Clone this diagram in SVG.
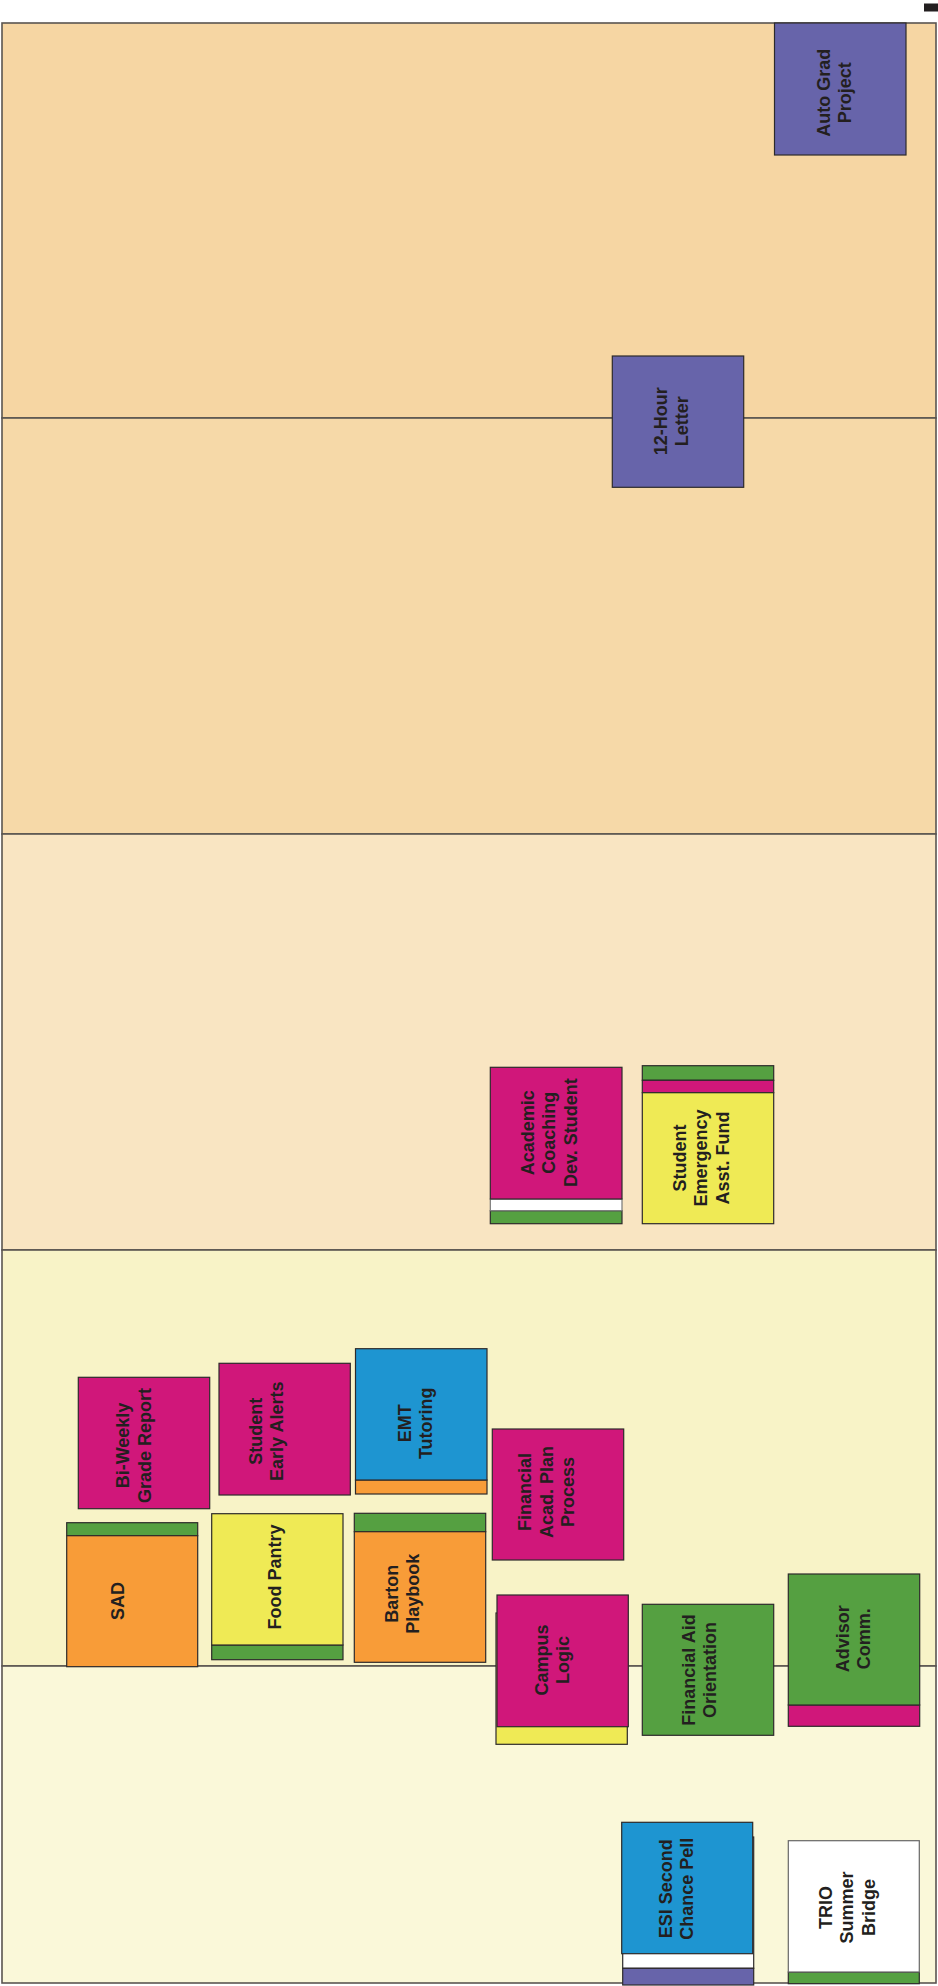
<svg xmlns="http://www.w3.org/2000/svg" width="938" height="1986" viewBox="0 0 938 1986">
<style>
.bx{stroke:#2d2a2b;stroke-width:1.2}
.mg{fill:#D0177A}.or{fill:#F89C38}.ye{fill:#EFEA55}.gr{fill:#55A041}.bl{fill:#1E95D1}.pu{fill:#6764AA}.wh{fill:#FFFFFF}
.t{font-family:"Liberation Sans",Arial,sans-serif;font-weight:bold;font-size:18px;fill:#231F20;text-anchor:middle}
.band{stroke:#5a5550;stroke-width:1.6}
</style>
<rect width="938" height="1986" fill="#FFFFFF"/>
<g id="bands">
<rect class="band" x="2" y="23" width="934" height="395" fill="#F6D6A3"/>
<rect class="band" x="2" y="418" width="934" height="416" fill="#F6D9A8"/>
<rect class="band" x="2" y="834" width="934" height="416" fill="#F9E5C2"/>
<rect class="band" x="2" y="1250" width="934" height="416" fill="#F8F3C7"/>
<rect class="band" x="2" y="1666" width="934" height="317" fill="#FAF8D9"/>
</g>
<rect id="mark" x="924" y="3.5" width="14" height="8" fill="#231F20"/>
<g id="connectors"></g>
<g id="auto-grad">
<rect class="bx pu" x="774.5" y="23" width="131.5" height="132"/>
<text class="t" transform="translate(834.3,92.7) rotate(-90)"><tspan x="0" y="-4.35">Auto Grad</tspan><tspan x="0" y="17.15">Project</tspan></text>
</g>
<g id="twelve-hour">
<rect class="bx pu" x="612.3" y="356" width="131.4" height="131.3"/>
<text class="t" transform="translate(671.2,421.3) rotate(-90)"><tspan x="0" y="-4.35">12-Hour</tspan><tspan x="0" y="17.15">Letter</tspan></text>
</g>
<g id="academic-coaching">
<rect class="bx gr" x="490.3" y="1210.7" width="131.7" height="13"/>
<rect class="bx wh" x="490.3" y="1199" width="131.7" height="11.7" style="stroke:#777"/>
<rect class="bx mg" x="490.3" y="1067.3" width="131.7" height="131.7"/>
<text class="t" transform="translate(549,1132.7) rotate(-90)"><tspan x="0" y="-15.1">Academic</tspan><tspan x="0" y="6.4">Coaching</tspan><tspan x="0" y="27.9">Dev. Student</tspan></text>
</g>
<g id="student-emergency">
<rect class="bx gr" x="642.3" y="1065.7" width="131.4" height="14.6"/>
<rect class="bx mg" x="642.3" y="1080.3" width="131.4" height="12.4"/>
<rect class="bx ye" x="642.3" y="1092.7" width="131.4" height="131"/>
<text class="t" transform="translate(700.7,1158) rotate(-90)"><tspan x="0" y="-15.1">Student</tspan><tspan x="0" y="6.4">Emergency</tspan><tspan x="0" y="27.9">Asst. Fund</tspan></text>
</g>
<g id="bi-weekly">
<rect class="bx mg" x="78.3" y="1377.3" width="131.4" height="131.4"/>
<text class="t" transform="translate(133.7,1445.5) rotate(-90)"><tspan x="0" y="-4.35">Bi-Weekly</tspan><tspan x="0" y="17.15">Grade Report</tspan></text>
</g>
<g id="early-alerts">
<rect class="bx mg" x="219" y="1363.3" width="131.3" height="131.7"/>
<text class="t" transform="translate(266.3,1431.3) rotate(-90)"><tspan x="0" y="-4.35">Student</tspan><tspan x="0" y="17.15">Early Alerts</tspan></text>
</g>
<g id="emt-tutoring">
<rect class="bx or" x="355.5" y="1480" width="131.5" height="14"/>
<rect class="bx bl" x="355.5" y="1348.7" width="131.5" height="131.3"/>
<text class="t" transform="translate(415,1423.3) rotate(-90)"><tspan x="0" y="-4.35">EMT</tspan><tspan x="0" y="17.15">Tutoring</tspan></text>
</g>
<g id="financial-acad-plan">
<rect class="bx mg" x="492.3" y="1429" width="131.4" height="131"/>
<text class="t" transform="translate(546.3,1492) rotate(-90)"><tspan x="0" y="-15.1">Financial</tspan><tspan x="0" y="6.4">Acad. Plan</tspan><tspan x="0" y="27.9">Process</tspan></text>
</g>
<g id="sad">
<rect class="bx gr" x="66.7" y="1522.7" width="131" height="13"/>
<rect class="bx or" x="66.7" y="1535.7" width="131" height="131"/>
<text class="t" transform="translate(118,1601) rotate(-90)"><tspan x="0" y="6.4">SAD</tspan></text>
</g>
<g id="food-pantry">
<rect class="bx gr" x="211.7" y="1645" width="131.3" height="14.7"/>
<rect class="bx ye" x="211.7" y="1513.7" width="131.3" height="131.3"/>
<text class="t" transform="translate(275,1577) rotate(-90)"><tspan x="0" y="6.4">Food Pantry</tspan></text>
</g>
<g id="barton-playbook">
<rect class="bx gr" x="354.3" y="1513.3" width="131.4" height="18.4"/>
<rect class="bx or" x="354.3" y="1531.7" width="131.4" height="130.6"/>
<text class="t" transform="translate(402.2,1593.8) rotate(-90)"><tspan x="0" y="-4.35">Barton</tspan><tspan x="0" y="17.15">Playbook</tspan></text>
</g>
<g id="campus-logic">
<rect class="bx ye" x="496" y="1613" width="131.3" height="131.3"/>
<rect class="bx mg" x="497" y="1595" width="131.3" height="131.7"/>
<text class="t" transform="translate(552.3,1660) rotate(-90)"><tspan x="0" y="-4.35">Campus</tspan><tspan x="0" y="17.15">Logic</tspan></text>
</g>
<g id="financial-aid-orientation">
<rect class="bx gr" x="642.3" y="1604.3" width="131.4" height="131"/>
<text class="t" transform="translate(699.3,1670) rotate(-90)"><tspan x="0" y="-4.35">Financial Aid</tspan><tspan x="0" y="17.15">Orientation</tspan></text>
</g>
<g id="advisor-comm">
<rect class="bx mg" x="788.3" y="1705" width="131.4" height="21.3"/>
<rect class="bx gr" x="788.3" y="1574" width="131.4" height="131"/>
<text class="t" transform="translate(853.3,1638.8) rotate(-90)"><tspan x="0" y="-4.35">Advisor</tspan><tspan x="0" y="17.15">Comm.</tspan></text>
</g>
<g id="esi-second-chance">
<rect class="bx wh" x="622.7" y="1837" width="131" height="131.3"/>
<rect class="bx pu" x="622.7" y="1968.3" width="131" height="16.7"/>
<rect class="bx bl" x="621.7" y="1822.3" width="131" height="131.4"/>
<text class="t" transform="translate(676.3,1888.8) rotate(-90)"><tspan x="0" y="-4.35">ESI Second</tspan><tspan x="0" y="17.15">Chance Pell</tspan></text>
</g>
<g id="trio-summer-bridge">
<rect class="bx gr" x="788.3" y="1972" width="131" height="11.7"/>
<rect class="bx wh" x="788.3" y="1840.7" width="131" height="131.3" style="stroke:#666"/>
<text class="t" transform="translate(846.7,1907.5) rotate(-90)"><tspan x="0" y="-15.1">TRIO</tspan><tspan x="0" y="6.4">Summer</tspan><tspan x="0" y="27.9">Bridge</tspan></text>
</g>
</svg>
